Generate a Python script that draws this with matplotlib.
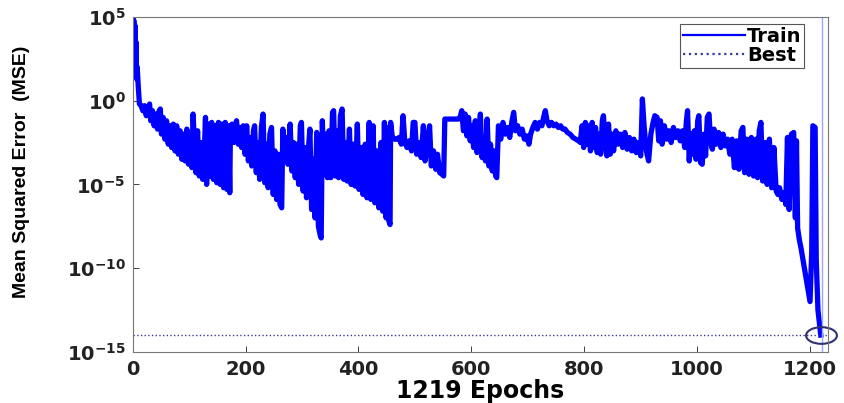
import numpy as np
import matplotlib
matplotlib.use('Agg')
import matplotlib.pyplot as plt
from matplotlib.markers import MarkerStyle
from matplotlib.transforms import Affine2D
from matplotlib.ticker import FixedLocator, LogFormatterMathtext, NullLocator

# Training curve: (epoch, log10 MSE), in segments.
seg_start = [(0, 4.9), (1, 2.0), (2, 4.8), (3, 1.8), (4, 4.5), (5, 1.5), (6, 3.5),
             (7, 1.3), (8, 2.0), (10, 0.8), (12, -0.2)]
seg_b = [(15, -0.3), (18, -0.6), (21, -0.3), (24, -0.9), (27, -0.5), (30, -0.2),
         (32, -1.2), (35, -0.6), (38, -1.5), (41, -0.8), (44, -1.7), (47, -0.6),
         (49, -0.5), (51, -2.0), (54, -1.0), (57, -2.3), (60, -1.2), (63, -2.6),
         (66, -1.5), (69, -2.8), (72, -1.4), (75, -3.0), (78, -1.5), (81, -3.2),
         (84, -1.8), (87, -3.5), (90, -2.0), (93, -3.6), (96, -1.7), (99, -3.8),
         (102, -2.5), (105, -4.0), (107, -0.8), (110, -3.0), (112, -4.3), (115, -1.8),
         (118, -4.5), (121, -2.5), (124, -4.7), (127, -3.0), (129, -1.0), (131, -5.0)]
seg_c = [(134, -1.4), (137, -4.5), (140, -1.3), (143, -4.7), (146, -1.5), (149, -4.9),
         (152, -1.3), (155, -5.0), (158, -1.4), (161, -5.2), (164, -1.3), (167, -5.3),
         (170, -1.5), (172, -5.5)]
seg_d = [(173, -2.3), (176, -1.4), (179, -2.5), (182, -1.5), (184, -1.2), (187, -2.6),
         (190, -1.6), (193, -2.8), (196, -1.5), (199, -3.2), (202, -1.5), (205, -3.6),
         (208, -2.2), (211, -3.9), (214, -1.8), (216, -1.5), (219, -4.3), (222, -2.5),
         (225, -4.7), (228, -1.6), (231, -0.8), (234, -4.9), (237, -2.6), (240, -5.2),
         (243, -2.0), (246, -1.6), (249, -5.6), (252, -3.0), (255, -5.9), (258, -3.2),
         (261, -6.2), (264, -6.4)]
seg_e = [(266, -1.7), (269, -3.4), (272, -2.2), (275, -3.8), (279, -1.4), (282, -4.2),
         (285, -2.5), (288, -4.6), (291, -2.6), (294, -5.0), (297, -1.5), (299, -1.3),
         (302, -5.4), (305, -2.8), (308, -5.8), (311, -3.0), (314, -1.7), (317, -6.5),
         (320, -3.5), (323, -7.0), (326, -1.9), (329, -7.5), (332, -8.0), (334, -8.2)]
seg_f = [(336, -1.2), (339, -4.4), (342, -2.0), (345, -4.6), (348, -1.8), (351, -4.6),
         (354, -0.7), (356, -0.6), (359, -4.5), (362, -1.8), (365, -4.6), (368, -0.9),
         (371, -0.5), (374, -4.7), (377, -2.5), (380, -4.8), (384, -1.7), (387, -5.0),
         (391, -2.6), (394, -5.1), (398, -1.4), (401, -5.3), (405, -2.8), (408, -5.6),
         (412, -2.6), (415, -5.8), (419, -1.3), (422, -5.9), (426, -1.5), (429, -6.1),
         (433, -3.0), (436, -6.4), (440, -2.5), (443, -6.6), (446, -1.3), (449, -7.0),
         (452, -1.6), (454, -7.2), (456, -7.4)]
seg_g = [(457, -1.3), (460, -2.2), (464, -2.3), (468, -2.3), (472, -2.2), (476, -2.6),
         (479, -0.9), (482, -2.4), (486, -2.8), (490, -2.4), (494, -3.0), (497, -1.3),
         (500, -1.3), (503, -3.2), (507, -2.5), (511, -3.4), (515, -1.5), (518, -3.6),
         (522, -2.6), (526, -1.5), (529, -3.9), (533, -3.0), (537, -4.1), (540, -3.2),
         (544, -4.3), (548, -4.4), (551, -4.5)]
seg_h = [(553, -1.1), (577, -1.1), (580, -1.0), (583, -0.6), (586, -1.8), (589, -0.8),
         (592, -2.1), (595, -1.0), (598, -2.4), (601, -1.5), (604, -2.8), (607, -1.2),
         (610, -3.1), (613, -2.0), (616, -0.8), (619, -3.4), (622, -2.2), (625, -3.6),
         (628, -1.1), (631, -3.9), (634, -2.6), (637, -4.2), (640, -3.0), (643, -4.5),
         (645, -4.6)]
seg_i = [(648, -1.5), (652, -2.3), (656, -1.3), (660, -2.0), (664, -1.6), (668, -2.2),
         (672, -1.2), (675, -0.7), (678, -1.8), (682, -1.5), (686, -2.0), (690, -1.7),
         (694, -2.3), (698, -2.1), (702, -2.6), (705, -2.0)]
seg_j = [(709, -1.6), (713, -1.3), (717, -1.7), (721, -1.3), (725, -1.5), (728, -1.0),
         (731, -0.6), (734, -1.2), (738, -1.5), (742, -1.3), (746, -1.5), (750, -1.4),
         (754, -1.6), (758, -1.5), (762, -1.7), (766, -1.7), (770, -1.9), (775, -2.0),
         (780, -2.2), (785, -2.3), (790, -2.4), (793, -2.5)]
seg_k = [(796, -1.5), (799, -2.8), (802, -1.3), (805, -2.6), (808, -1.5), (811, -3.0),
         (814, -1.3), (817, -2.8), (820, -1.6), (823, -3.1), (826, -2.0), (829, -3.2),
         (832, -1.2), (834, -0.9), (837, -2.5), (840, -3.3), (843, -1.4), (846, -3.2),
         (849, -2.0), (852, -3.0), (856, -1.8), (860, -2.6), (864, -2.0), (868, -2.8),
         (872, -1.9), (876, -2.9), (880, -2.2), (884, -3.0), (888, -2.3), (892, -3.1),
         (896, -2.5), (900, -3.3), (903, 0.1), (906, -1.5), (910, -3.0), (914, -3.6)]
seg_l = [(918, -2.0), (922, -1.3), (925, -0.9), (929, -1.0), (932, -2.4), (935, -1.2),
         (938, -2.6), (942, -1.5), (946, -2.3), (950, -1.8), (954, -2.5), (958, -1.6),
         (962, -2.2), (966, -1.8), (970, -2.4), (974, -1.8)]
seg_m = [(978, -2.8), (981, -1.2), (983, -0.6), (986, -3.6), (989, -2.0), (992, -3.2),
         (995, -1.8), (998, -3.5), (1001, -1.2), (1003, -0.9), (1006, -3.7), (1009, -3.8),
         (1012, -2.0), (1015, -3.3), (1018, -1.0), (1021, -0.8), (1024, -2.5), (1027, -2.9),
         (1030, -1.7), (1034, -2.6), (1038, -1.9), (1042, -2.8), (1046, -2.0), (1050, -2.7),
         (1054, -2.3)]
seg_n = [(1058, -3.2), (1062, -2.3), (1066, -4.0), (1070, -2.4), (1074, -4.1), (1078, -1.8),
         (1081, -1.6), (1084, -4.3), (1088, -2.3), (1092, -4.4), (1096, -2.2), (1100, -4.5),
         (1104, -2.3), (1107, -4.6), (1110, -1.8), (1113, -1.3), (1116, -4.8), (1120, -2.5),
         (1124, -5.0), (1128, -2.3), (1132, -5.2), (1136, -2.8), (1140, -5.4), (1143, -5.6),
         (1146, -5.2), (1150, -5.9), (1154, -5.5), (1157, -6.2), (1160, -2.2), (1163, -6.5),
         (1167, -2.0), (1171, -1.9), (1174, -7.0), (1176, -2.4), (1178, -7.6), (1181, -8.3),
         (1184, -8.8), (1188, -9.6), (1192, -10.4), (1196, -11.2), (1200, -12.0), (1203, -9.0),
         (1205, -1.5), (1209, -1.6), (1211, -9.5), (1214, -12.5), (1219, -14.0)]

best_epoch = 1219
best_mse = 1e-14
n_epochs = 1219

pts = (seg_start + seg_b + seg_c + seg_d + seg_e + seg_f + seg_g + seg_h +
       seg_i + seg_j + seg_k + seg_l + seg_m + seg_n)
epoch = np.array([p[0] for p in pts])
mse = 10.0 ** np.array([p[1] for p in pts])

plt.rcParams['font.family'] = ['DejaVu Sans']
plt.rcParams['mathtext.fontset'] = 'dejavusans'
plt.rcParams['mathtext.default'] = 'bf'

fig = plt.figure(figsize=(8.45, 4.03), dpi=100)
ax = fig.add_axes([0.157, 0.127, 0.823, 0.831])

ax.plot(epoch, mse, color='#0000ff', lw=3.8, solid_joinstyle='round', label='Train')
ax.axhline(best_mse, color='#3a3a9a', lw=1.0, ls=':', label='Best')
ax.axvline(best_epoch + 2, color='#9aa8ff', lw=1.0)
ellipse = MarkerStyle('o', fillstyle='none', transform=Affine2D().scale(1.85, 1.0))
ax.plot([best_epoch], [best_mse], marker=ellipse, ms=12, mfc='none', mec='#303070',
        mew=1.5, clip_on=False)

ax.set_yscale('log')
ax.set_xlim(0, 1232)
ax.set_ylim(1e-15, 1e5)
ax.set_xticks([0, 200, 400, 600, 800, 1000, 1200])
ax.yaxis.set_major_locator(FixedLocator([1e-15, 1e-10, 1e-5, 1e0, 1e5]))
ax.yaxis.set_major_formatter(LogFormatterMathtext())
ax.yaxis.set_minor_locator(NullLocator())
ax.tick_params(direction='in', length=4, width=0.6, colors='#222222', labelsize=14, pad=6)
ax.tick_params(axis='y', pad=5)
for lab in ax.get_xticklabels() + ax.get_yticklabels():
    lab.set_fontweight('bold')
    lab.set_color('#222222')
for sp in ax.spines.values():
    sp.set_color('#777777')
    sp.set_linewidth(0.8)

ax.set_xlabel('%d Epochs' % n_epochs, fontsize=17, fontweight='bold', labelpad=0)
ax.set_ylabel('Mean Squared Error  (MSE)', fontsize=14,
              family=['Liberation Sans Narrow', 'Liberation Sans'], fontweight='bold')
ax.yaxis.set_label_coords(-0.147, 0.537)

leg = ax.legend(loc='upper right', bbox_to_anchor=(0.966, 0.978),
                prop={'weight': 'bold', 'size': 14},
                handlelength=3.2, handletextpad=0.1, borderpad=0.15, labelspacing=0.0,
                fancybox=False, edgecolor='#555555', framealpha=1, borderaxespad=0)
leg.get_frame().set_linewidth(0.8)
for line in leg.get_lines():
    line.set_linewidth(1.6)

fig.savefig('out.png', dpi=100)
